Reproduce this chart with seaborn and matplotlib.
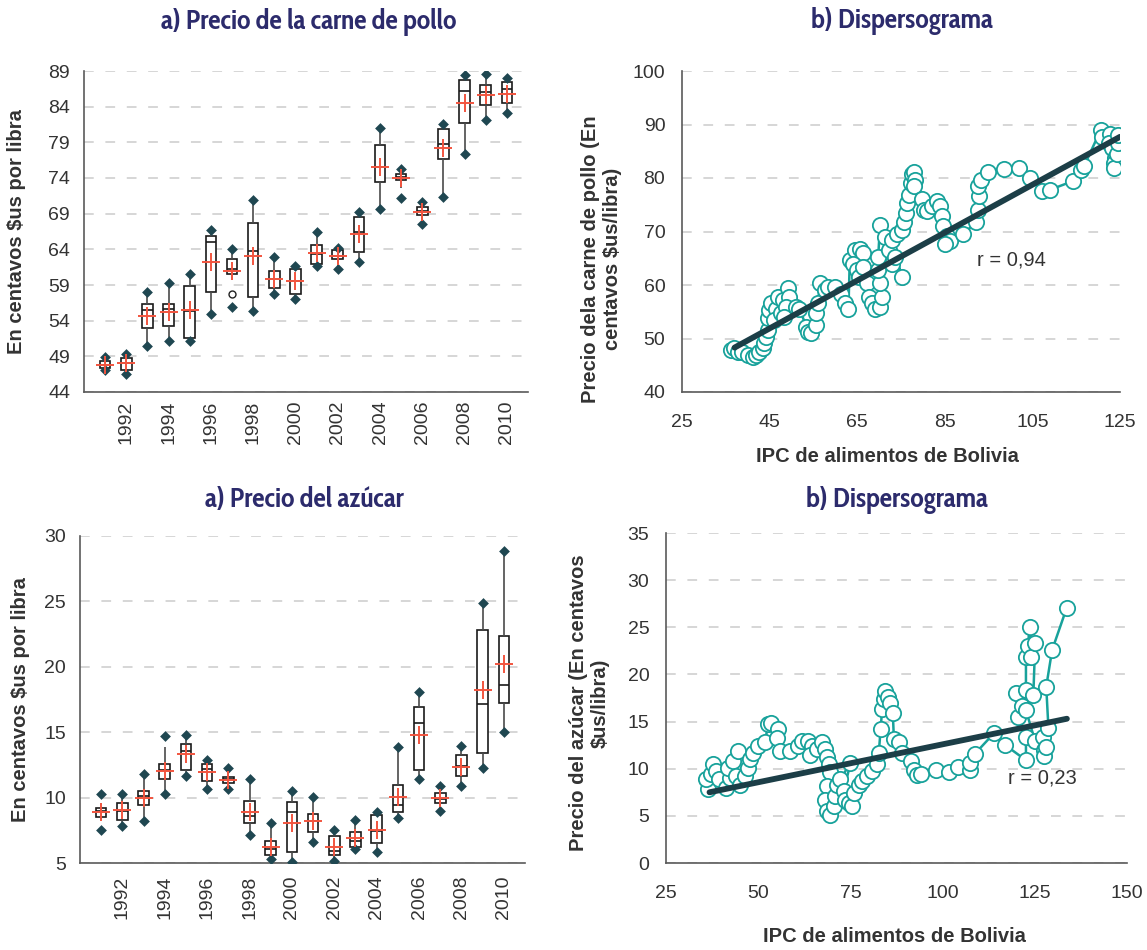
import numpy as np
import pandas as pd
import matplotlib
matplotlib.use("Agg")
import matplotlib.pyplot as plt
from matplotlib import font_manager
from matplotlib.textpath import TextPath
import seaborn as sns

# ---- datos: diagramas de caja por año ----
years = list(range(1991, 2011))

# carne de pollo (centavos $us por libra)
pollo_min = [47.1, 46.5, 50.5, 51.1, 51.1, 55.0, 55.9, 55.4, 57.7, 57.1,
             61.6, 61.3, 62.2, 69.7, 71.25, 67.5, 71.4, 77.3, 82.2, 83.1]
pollo_wlo = [47.1, 46.5, 50.5, 51.1, 51.1, 55.0, 59.7, 55.4, 57.7, 57.1,
             61.6, 61.3, 62.2, 69.7, 72.65, 67.5, 71.4, 77.3, 82.2, 83.1]
pollo_q1 = [47.3, 47.1, 53.0, 53.3, 51.6, 58.0, 60.5, 57.3, 58.6, 57.7,
            62.0, 62.6, 63.6, 73.5, 73.7, 68.8, 76.6, 81.7, 84.3, 84.5]
pollo_med = [47.85, 48.0, 55.5, 55.7, 55.4, 65.0, 61.3, 63.7, 59.9, 59.5,
             63.4, 63.0, 66.5, 75.5, 74.1, 69.4, 78.8, 86.2, 86.1, 86.5]
pollo_q3 = [48.4, 48.8, 56.4, 56.4, 58.8, 65.8, 62.6, 67.7, 60.9, 61.3,
            64.6, 63.9, 68.6, 78.6, 74.5, 69.9, 80.9, 87.7, 87.1, 87.5]
pollo_max = [48.9, 49.3, 58.0, 59.3, 60.5, 66.7, 64.1, 70.9, 62.9, 61.6,
             66.5, 64.2, 69.2, 81.0, 75.2, 70.7, 81.6, 88.4, 88.6, 88.0]
pollo_mean = [47.8, 48.0, 54.6, 55.2, 55.5, 62.2, 61.0, 63.1, 59.9, 59.5,
              63.5, 63.1, 66.2, 75.6, 74.0, 69.3, 78.2, 84.5, 85.6, 85.8]
pollo_out_year = [1997]
pollo_out_val = [57.7]

# azúcar (centavos $us por libra)
az_min = [7.5, 7.86, 8.19, 10.28, 11.66, 10.64, 10.64, 7.17, 5.31, 5.08,
          6.58, 5.18, 6.1, 5.87, 8.42, 11.43, 8.98, 10.87, 12.24, 15.03]
az_wlo = [8.4, 7.86, 8.19, 10.28, 11.66, 10.64, 10.64, 7.17, 5.31, 5.08,
          6.58, 5.18, 6.1, 5.87, 8.42, 11.43, 8.98, 10.87, 12.24, 15.03]
az_q1 = [8.55, 8.3, 9.44, 11.43, 12.14, 11.3, 11.1, 8.06, 5.64, 5.87,
         7.37, 5.64, 6.22, 6.56, 8.88, 12.14, 9.57, 11.66, 13.42, 17.24]
az_med = [9.0, 9.0, 10.1, 12.1, 13.55, 12.17, 11.4, 8.6, 6.07, 8.9,
          8.2, 5.9, 6.66, 7.47, 9.46, 15.71, 9.9, 12.4, 17.14, 18.62]
az_q3 = [9.23, 9.57, 10.5, 12.58, 14.1, 12.58, 11.56, 9.72, 6.71, 9.69,
         8.78, 7.04, 7.4, 8.65, 10.97, 16.89, 10.38, 13.27, 22.8, 22.35]
az_whi = [9.55, 10.28, 11.8, 13.85, 14.8, 12.86, 12.3, 11.45, 8.09, 10.54,
          10.08, 7.5, 8.32, 8.88, 13.85, 18.06, 10.87, 13.98, 24.9, 28.85]
az_max = [10.28, 10.28, 11.8, 14.72, 14.8, 12.86, 12.3, 11.45, 8.09, 10.54,
          10.08, 7.5, 8.32, 8.88, 13.85, 18.06, 10.87, 13.98, 24.9, 28.85]
az_mean = [8.9, 9.03, 10.0, 12.04, 13.3, 11.94, 11.35, 8.88, 6.25, 8.06,
           8.2, 6.22, 6.91, 7.5, 10.03, 14.8, 9.95, 12.37, 18.19, 20.2]

# ---- datos: dispersogramas ----
ipc_pollo = [36.1, 36.9, 37.7, 38.8, 40.0, 41.1, 41.9, 42.6, 43.4, 43.8,
             44.2, 44.6, 44.6, 44.9, 45.3, 46.5, 46.1, 47.6, 46.9, 48.0,
             49.2, 49.5, 48.8, 48.4, 51.1, 51.8, 53.4, 53.8, 54.5, 55.7,
             55.7, 56.1, 56.4, 57.6, 58.4, 59.9, 61.4, 62.2, 63.0, 63.3,
             64.5, 65.6, 66.4, 64.1, 64.9, 65.3, 66.4, 67.2, 67.6, 68.3,
             69.1, 70.2, 70.6, 70.2, 69.8, 69.8, 70.2, 71.4, 72.2, 72.9,
             73.7, 75.2, 72.9, 74.1, 75.2, 75.7, 76.1, 76.4, 76.8, 77.2,
             77.6, 77.9, 78.3, 77.9, 79.8, 80.2, 80.9, 82.0, 83.2, 83.9,
             84.3, 84.7, 85.4, 86.2, 85.0, 89.2, 92.1, 92.5, 92.9, 92.5,
             93.3, 94.8, 98.5, 101.9, 104.5, 107.1, 109.0, 114.2, 116.1, 116.8,
             120.6, 120.9, 122.8, 122.4, 123.2, 123.9, 123.6, 123.6, 124.3, 124.5,
             124.6]
precio_pollo = [47.8, 48.2, 47.5, 47.4, 46.9, 46.6, 46.9, 47.5, 48.2, 49.1,
                50.3, 51.6, 53.8, 55.3, 56.6, 55.6, 53.4, 54.7, 57.8, 57.2,
                59.4, 57.8, 55.9, 54.1, 55.9, 55.6, 52.2, 51.3, 51.0, 52.5,
                54.7, 56.6, 60.3, 59.0, 59.7, 59.7, 58.4, 56.6, 55.6, 64.6,
                66.5, 66.8, 65.9, 64.0, 62.8, 61.5, 63.4, 60.3, 57.8, 56.6,
                55.6, 55.9, 57.8, 60.3, 62.8, 65.3, 71.2, 69.0, 66.5, 64.0,
                65.3, 61.5, 68.4, 69.6, 70.2, 71.7, 73.5, 75.4, 76.9, 79.0,
                80.8, 81.2, 79.7, 78.5, 76.0, 74.1, 73.8, 74.8, 75.7, 74.8,
                72.9, 71.0, 69.2, 68.3, 67.7, 69.5, 71.7, 74.1, 76.6, 78.5,
                79.7, 81.2, 81.7, 81.9, 80.0, 77.5, 77.8, 79.4, 81.5, 82.2,
                89.0, 87.7, 88.3, 86.5, 85.6, 83.7, 82.8, 81.9, 84.5, 86.5,
                88.0]
tend_pollo_x = [37.0, 125.0]
tend_pollo_y = [48.3, 87.7]

ipc_az = [36.3, 35.9, 37.3, 37.7, 38.6, 39.5, 41.3, 42.3, 41.8, 43.2,
          44.5, 44.1, 45.0, 46.3, 47.3, 47.7, 48.6, 50.0, 51.8, 52.7,
          53.6, 55.4, 55.0, 55.9, 58.6, 60.9, 61.8, 63.6, 64.5, 64.1,
          65.9, 67.3, 68.2, 68.6, 69.1, 69.5, 68.6, 68.2, 68.6, 69.5,
          70.5, 70.9, 71.4, 72.3, 75.0, 73.2, 73.6, 74.5, 75.5, 75.9,
          77.3, 78.2, 79.5, 80.9, 82.3, 82.7, 83.2, 83.6, 84.1, 84.4,
          85.3, 85.8, 86.5, 86.8, 88.2, 89.1, 91.4, 92.3, 93.1, 94.1,
          98.2, 101.8, 104.3, 107.3, 107.3, 108.8, 113.9, 117.0, 122.6, 122.6,
          120.5, 120.0, 121.5, 122.6, 122.6, 123.1, 123.6, 124.1, 125.1, 124.6,
          122.6, 125.1, 127.1, 127.6, 127.6, 128.1, 128.7, 128.1, 129.7, 133.6]
precio_az = [7.8, 8.9, 9.4, 10.5, 9.75, 8.9, 8.0, 9.0, 10.1, 10.8,
             11.9, 9.2, 8.3, 9.2, 10.1, 11.0, 11.7, 12.4, 12.8, 14.7,
             14.9, 14.2, 13.3, 11.9, 11.9, 12.4, 12.9, 12.9, 12.4, 11.5,
             12.1, 12.8, 12.1, 11.2, 10.5, 9.6, 8.2, 6.7, 5.5, 5.1,
             6.0, 7.1, 8.3, 8.9, 10.6, 7.6, 6.7, 6.4, 6.0, 7.4,
             8.3, 8.7, 9.2, 9.8, 10.5, 11.7, 14.2, 16.3, 17.4, 18.2,
             17.6, 17.0, 15.9, 13.1, 12.8, 11.7, 10.8, 9.9, 9.3, 9.4,
             9.85, 9.7, 10.2, 9.85, 10.6, 11.6, 13.75, 12.5, 10.9, 13.4,
             15.5, 18.0, 16.6, 18.4, 21.9, 23.0, 25.0, 21.9, 23.3, 17.8,
             16.2, 12.9, 13.4, 12.0, 11.3, 12.3, 14.3, 18.7, 22.6, 27.0]
tend_az_x = [36.8, 133.7]
tend_az_y = [7.5, 15.3]

# colores
teal = "#18a29b"
dark = "#1c3e47"
diamond = "#1f4751"
red = "#f2553f"
navy = "#2c2b6c"
grid_c = "#d6d6d6"
txt = "#333333"
spine_c = "#5a5a5a"

sns.set_style("white")
plt.rcParams["font.family"] = ["Liberation Sans", "DejaVu Sans"]
plt.rcParams["axes.labelcolor"] = txt
plt.rcParams["xtick.color"] = txt
plt.rcParams["ytick.color"] = txt

# fuente angosta en negrita para los títulos; se elige la de ancho más
# parecido al título original (unos 294 px a 20 pt)
title_sample = "a) Precio de la carne de pollo"
target_w = 294.0 * 72.0 / 100.0
title_prop, title_w = None, None
for f in font_manager.fontManager.ttflist:
    name = f.name.lower()
    narrow = "narrow" in name or "condensed" in name
    if not narrow or "mono" in name or f.style != "normal":
        continue
    if f.weight not in ("bold", 700):
        continue
    try:
        fp = font_manager.FontProperties(fname=f.fname, size=20)
        w = TextPath((0, 0), title_sample, prop=fp).get_extents().width
    except Exception:
        continue
    if title_w is None or abs(w - target_w) < abs(title_w - target_w):
        title_prop, title_w = fp, w

W, H = 1147, 950
fig = plt.figure(figsize=(W / 100, H / 100), dpi=100)


def px_axes(x0, y0, x1, y1):
    return fig.add_axes([x0 / W, 1 - y1 / H, (x1 - x0) / W, (y1 - y0) / H])


ax_tl = px_axes(84, 71, 528, 392)
ax_tr = px_axes(682, 71, 1120, 392)
ax_bl = px_axes(80, 536, 525, 863)
ax_br = px_axes(666, 533, 1127, 863)


def style_axes(ax):
    for s in ["top", "right"]:
        ax.spines[s].set_visible(False)
    for s in ["left", "bottom"]:
        ax.spines[s].set_color(spine_c)
        ax.spines[s].set_linewidth(1.2)
    ax.set_axisbelow(True)
    ax.yaxis.grid(True, color=grid_c, linestyle=(0, (5, 6)), linewidth=1.4)
    ax.xaxis.grid(False)


def box_panel(ax, lo, q1, med, q3, hi, vmin, vmax, mean):
    df = pd.DataFrame({"anio": np.tile(years, 5),
                       "valor": np.concatenate([lo, q1, med, q3, hi])})
    sns.boxplot(data=df, x="anio", y="valor", order=years, orient="x",
                whis=(0, 100), width=0.5, color="white", linecolor="#1a1a1a",
                linewidth=1.2, showcaps=False, showfliers=False,
                whiskerprops={"color": "#4a4a4a"}, ax=ax)
    ext = pd.DataFrame({"anio": years + years, "valor": list(vmin) + list(vmax)})
    sns.stripplot(data=ext, x="anio", y="valor", order=years, orient="x",
                  jitter=False, marker="D", color=diamond, size=5.5,
                  linewidth=0, ax=ax, zorder=4)
    sns.stripplot(x=years, y=mean, order=years, orient="x", jitter=False,
                  marker="+", color=red, size=13, linewidth=1.4, ax=ax, zorder=5)
    ax.set_xlim(-1, 20)
    ax.set_xticks(range(1, 20, 2))
    ax.set_xticklabels([str(y) for y in years[1::2]], rotation=90)
    ax.set_xlabel("")
    style_axes(ax)


# ---- a) Precio de la carne de pollo ----
box_panel(ax_tl, pollo_wlo, pollo_q1, pollo_med, pollo_q3, pollo_max,
          pollo_min, pollo_max, pollo_mean)
sns.stripplot(x=pollo_out_year, y=pollo_out_val, order=years, orient="x",
              jitter=False, marker="o", color="white", edgecolor="#222222",
              linewidth=1.0, size=5, ax=ax_tl, zorder=4)
ax_tl.set_xlim(-1, 20)
ax_tl.set_ylim(44, 89)
ax_tl.set_yticks(range(44, 90, 5))
ax_tl.set_xticks([-1, 4, 9, 14, 19], minor=True)
ax_tl.tick_params(axis="x", which="major", length=0, pad=6, labelsize=14)
ax_tl.tick_params(axis="x", which="minor", direction="inout", length=12,
                  width=1.2, color=spine_c)
ax_tl.tick_params(axis="y", direction="inout", length=12, width=1.2,
                  color=spine_c, pad=4, labelsize=14)
ax_tl.set_ylabel("En centavos $us por libra", fontsize=14.5,
                 fontweight="bold", va="center")
ax_tl.yaxis.set_label_coords(-0.151, 0.5)

# ---- a) Precio del azúcar ----
box_panel(ax_bl, az_wlo, az_q1, az_med, az_q3, az_whi, az_min, az_max, az_mean)
ax_bl.set_ylim(5, 30)
ax_bl.set_yticks(range(5, 31, 5))
ax_bl.tick_params(axis="x", length=0, pad=9, labelsize=14)
ax_bl.tick_params(axis="y", length=0, pad=10, labelsize=14)
ax_bl.set_ylabel("En centavos $us por libra", fontsize=14.5,
                 fontweight="bold", va="center")
ax_bl.yaxis.set_label_coords(-0.133, 0.5)


def scatter_panel(ax, ipc, precio, tx, ty):
    sns.lineplot(x=ipc, y=precio, sort=False, estimator=None, color=teal,
                 linewidth=1.8, marker="o", markersize=11,
                 markerfacecolor="white", markeredgecolor=teal,
                 markeredgewidth=1.3, ax=ax)
    sns.lineplot(x=tx, y=ty, color=dark, linewidth=4.2, ax=ax)
    style_axes(ax)


# ---- b) Dispersograma pollo ----
scatter_panel(ax_tr, ipc_pollo, precio_pollo, tend_pollo_x, tend_pollo_y)
ax_tr.set_xlim(25, 125)
ax_tr.set_ylim(40, 100)
ax_tr.set_xticks(range(25, 126, 20))
ax_tr.set_yticks(range(40, 101, 10))
ax_tr.tick_params(axis="both", direction="inout", length=12, width=1.2,
                  color=spine_c, labelsize=14)
ax_tr.tick_params(axis="x", pad=10)
ax_tr.tick_params(axis="y", pad=6)
ax_tr.text(92.4, 64.7, "r = 0,94", fontsize=14.5, color=txt, va="center")
ax_tr.set_xlabel("IPC de alimentos de Bolivia", fontsize=14.5,
                 fontweight="bold", va="center")
ax_tr.xaxis.set_label_coords(0.469, -0.20)
ax_tr.set_ylabel("Precio dela carne de pollo (En\ncentavos $us/libra)",
                 fontsize=14.5, fontweight="bold", va="center", linespacing=1.2)
ax_tr.yaxis.set_label_coords(-0.183, 0.414)

# ---- b) Dispersograma azúcar ----
scatter_panel(ax_br, ipc_az, precio_az, tend_az_x, tend_az_y)
ax_br.set_xlim(25, 150)
ax_br.set_ylim(0, 35)
ax_br.set_xticks(range(25, 151, 25))
ax_br.set_yticks(range(0, 36, 5))
ax_br.tick_params(axis="both", length=0, labelsize=14)
ax_br.tick_params(axis="x", pad=16)
ax_br.tick_params(axis="y", pad=12)
ax_br.text(117.6, 9.0, "r = 0,23", fontsize=14.5, color=txt, va="center")
ax_br.set_xlabel("IPC de alimentos de Bolivia", fontsize=14.5,
                 fontweight="bold", va="center")
ax_br.xaxis.set_label_coords(0.495, -0.223)
ax_br.set_ylabel("Precio del azúcar (En centavos\n$us/libra)",
                 fontsize=14.5, fontweight="bold", va="center", linespacing=1.2)
ax_br.yaxis.set_label_coords(-0.167, 0.485)

# ---- títulos ----
size = 17.0
if title_prop is not None:
    size = min(20.0, 20.0 * target_w / title_w)
    size = max(size, 17.5)
for x, y, t in [(309, 22, "a) Precio de la carne de pollo"),
                (902, 21, "b) Dispersograma"),
                (304, 500, "a) Precio del azúcar"),
                (897, 500, "b) Dispersograma")]:
    if title_prop is not None:
        fp = title_prop.copy()
        fp.set_size(size)
        fig.text(x / W, 1 - y / H, t, ha="center", va="center",
                 color=navy, fontproperties=fp)
    else:
        fig.text(x / W, 1 - y / H, t, ha="center", va="center", fontsize=size,
                 fontweight="bold", color=navy, family=["Liberation Sans"])

fig.savefig("out.png", dpi=100)
